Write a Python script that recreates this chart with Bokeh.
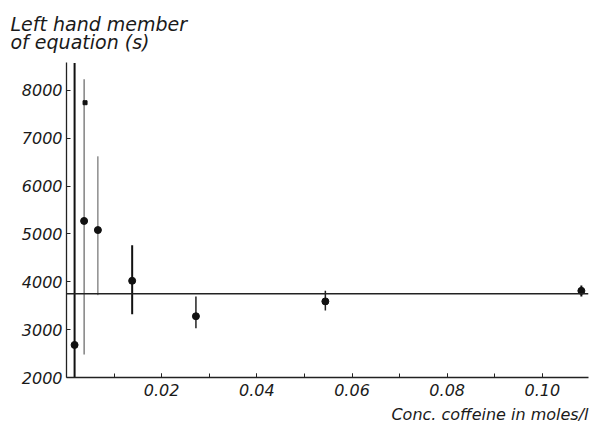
from bokeh.plotting import figure
from bokeh.models import ColumnDataSource, FixedTicker, NumeralTickFormatter, Span, Title, Range1d
from bokeh.embed import file_html
from bokeh.resources import INLINE

# ---- data ----
conc = [0.0017, 0.0037, 0.0066, 0.0138, 0.0272, 0.0544, 0.1082]
value = [2680, 5270, 5080, 4020, 3280, 3590, 3810]
err_low = [2000, 2480, 3720, 3320, 3030, 3400, 3690]
err_high = [8570, 8230, 6620, 4760, 3690, 3810, 3920]
extra_conc = [0.0039]
extra_value = [7740]
mean_level = 3750
y_ticks = [2000, 3000, 4000, 5000, 6000, 7000, 8000]
x_ticks = [0.02, 0.04, 0.06, 0.08, 0.10]
x_minor = [0.01, 0.02, 0.03, 0.04, 0.05, 0.06, 0.07, 0.08, 0.09, 0.10, 0.11]

# styles
bar_width = [2, 1, 1, 2, 1.5, 1.5, 2]
bar_color = ["#111111", "#444444", "#555555", "#111111", "#222222", "#222222", "#111111"]

FONT = "DejaVu Sans"
TXT = "#1a1a1a"

p = figure(width=590, height=427, output_backend="svg", toolbar_location=None,
           x_range=Range1d(0, 0.1097), y_range=Range1d(2000, 8580),
           min_border_left=66, min_border_right=2, min_border_top=62, min_border_bottom=49)
p.outline_line_color = None
p.grid.visible = False
p.background_fill_color = "white"

src = ColumnDataSource(dict(x=conc, y=value, lo=err_low, hi=err_high, w=bar_width, c=bar_color))
p.segment(x0="x", y0="lo", x1="x", y1="hi", line_width="w", line_color="c", source=src)
p.scatter(x="x", y="y", size=7, color="#111111", source=src)
p.scatter(x=extra_conc, y=extra_value, size=4, marker="square", color="#111111")

p.add_layout(Span(location=mean_level, dimension="width", line_color="#222222", line_width=1.5))

# axes
for ax in (p.xaxis[0], p.yaxis[0]):
    ax.axis_line_color = "#222222"
    ax.axis_line_width = 1.3
    ax.major_tick_in = 4
    ax.major_tick_out = 0
    ax.minor_tick_in = 4
    ax.minor_tick_out = 0
    ax.major_tick_line_color = "#222222"
    ax.minor_tick_line_color = "#222222"
    ax.major_label_text_font = FONT
    ax.major_label_text_font_style = "italic"
    ax.major_label_text_font_size = "16px"
    ax.major_label_text_color = TXT

p.xaxis.ticker = FixedTicker(ticks=x_ticks, minor_ticks=x_minor)
p.xaxis.formatter = NumeralTickFormatter(format="0.00")
p.xaxis.major_label_standoff = 6
p.yaxis.ticker = FixedTicker(ticks=y_ticks)
p.yaxis.major_label_standoff = 4

p.add_layout(Title(text="Conc. coffeine in moles/l", align="right", offset=0,
                   text_font=FONT, text_font_style="italic", text_font_size="16px",
                   text_color=TXT, standoff=8), "below")

p.add_layout(Title(text="Left hand member\nof equation (s)", align="left", offset=-56,
                   text_font=FONT, text_font_style="italic", text_font_size="19px",
                   text_color=TXT, text_line_height=0.85, standoff=18), "above")

open("out.html", "w").write(file_html(p, INLINE))
